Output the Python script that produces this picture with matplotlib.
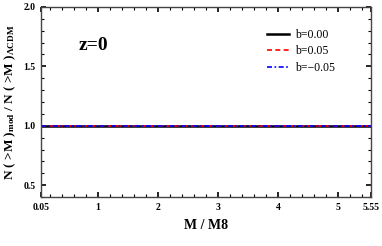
import matplotlib
matplotlib.use("Agg")
import matplotlib.pyplot as plt
from matplotlib.ticker import MultipleLocator

# data: all three ratios sit at 1
mass = [0.05, 1, 2, 3, 4, 5, 5.55]
ratio_b000 = [1.0, 1.0, 1.0, 1.0, 1.0, 1.0, 1.0]
ratio_b005 = [1.0, 1.0, 1.0, 1.0, 1.0, 1.0, 1.0]
ratio_bm005 = [1.0, 1.0, 1.0, 1.0, 1.0, 1.0, 1.0]
labels = ["b=0.00", "b=0.05", "b=\u22120.05"]
xticks = [0.05, 1, 2, 3, 4, 5, 5.55]
xticklabels = ["0.05", "1", "2", "3", "4", "5", "5.55"]

plt.rcParams["font.family"] = "Liberation Serif"
plt.rcParams["mathtext.fontset"] = "custom"
plt.rcParams["mathtext.rm"] = "Liberation Serif:bold"
plt.rcParams["mathtext.bf"] = "Liberation Serif:bold"
plt.rcParams["mathtext.it"] = "Liberation Serif:bold"

fig = plt.figure(figsize=(3.82, 2.46), dpi=100)
ax = fig.add_axes([0.107, 0.199, 0.864, 0.773])

ax.plot(mass, ratio_b000, color="black", linewidth=1.8, label=labels[0])
ax.plot(mass, ratio_b005, color="red", linewidth=1.2, linestyle=(0, (3, 2)), label=labels[1])
ax.plot(mass, ratio_bm005, color="blue", linewidth=1.2, linestyle=(0, (3, 1.5, 1, 1.5)), label=labels[2])

ax.set_xlim(0.05, 5.55)
ax.set_ylim(0.4, 2.0)
ax.set_xticks(xticks)
ax.set_xticklabels(xticklabels)
ax.set_yticks([0.5, 1.0, 1.5, 2.0])
ax.set_yticklabels(["0.5", "1.0", "1.5", "2.0"])
ax.xaxis.set_minor_locator(MultipleLocator(0.2))
ax.yaxis.set_minor_locator(MultipleLocator(0.1))
ax.tick_params(which="both", direction="in", top=True, right=True, labelsize=7, pad=4)
ax.tick_params(which="major", length=3.5, width=1.2)
ax.tick_params(which="minor", length=2, width=0.8)
for lab in ax.get_xticklabels() + ax.get_yticklabels():
    lab.set_fontweight("bold")
for sp in ax.spines.values():
    sp.set_linewidth(1.0)
    sp.set_color("#444444")

ax.set_xlabel("M / M8", fontsize=10, fontweight="bold", labelpad=5)
ax.set_ylabel(r"N ( >M )$_{\rm mod}$ / N ( >M )$_{\Lambda \rm CDM}$", fontsize=9.5, fontweight="bold", labelpad=4)

ax.text(0.115, 0.775, "z=0", transform=ax.transAxes, fontsize=14, fontweight="bold")

ax.legend(loc="upper left", bbox_to_anchor=(0.67, 0.91), frameon=False, fontsize=8.5,
          handlelength=1.9, handletextpad=0.5, labelspacing=0.4, borderaxespad=0)

fig.savefig("out.png", dpi=100)
